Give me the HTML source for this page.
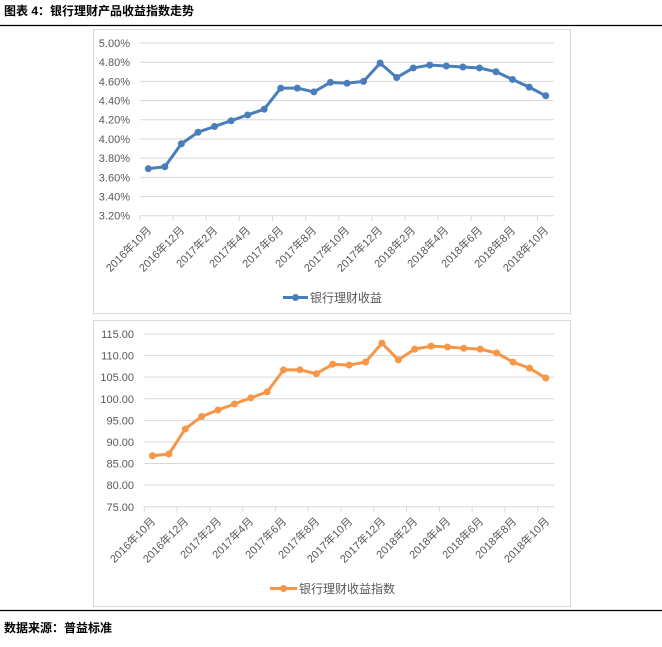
<!DOCTYPE html>
<html><head><meta charset="utf-8"><style>
body{margin:0;background:#fff;width:662px;height:642px;overflow:hidden;font-family:"Liberation Sans","Noto Sans CJK SC",sans-serif}
svg text{font-family:"Liberation Sans","Noto Sans CJK SC",sans-serif}
</style></head><body>
<svg width="662" height="642" xmlns="http://www.w3.org/2000/svg">
<text x="4" y="15" font-size="12" font-weight="bold" fill="#000">图表 4：银行理财产品收益指数走势</text>
<line x1="0" y1="25.5" x2="662" y2="25.5" stroke="#000" stroke-width="1.2"/>
<rect x="93.5" y="29.5" width="477" height="284" fill="none" stroke="#d9d9d9"/>
<rect x="93.5" y="320.5" width="477" height="286" fill="none" stroke="#d9d9d9"/>
<line x1="0" y1="610.5" x2="662" y2="610.5" stroke="#000" stroke-width="1.2"/>
<text x="4" y="632" font-size="12" font-weight="bold" fill="#000">数据来源：普益标准</text>
<g font-size="11" fill="#595959">
<text x="130" y="47" text-anchor="end">5.00%</text>
<text x="130" y="66.2" text-anchor="end">4.80%</text>
<text x="130" y="85.4" text-anchor="end">4.60%</text>
<text x="130" y="104.5" text-anchor="end">4.40%</text>
<text x="130" y="123.7" text-anchor="end">4.20%</text>
<text x="130" y="142.9" text-anchor="end">4.00%</text>
<text x="130" y="162.1" text-anchor="end">3.80%</text>
<text x="130" y="181.3" text-anchor="end">3.60%</text>
<text x="130" y="200.5" text-anchor="end">3.40%</text>
<text x="130" y="219.7" text-anchor="end">3.20%</text>
</g>
<g font-size="11" fill="#595959">
<text x="134" y="338" text-anchor="end">115.00</text>
<text x="134" y="359.6" text-anchor="end">110.00</text>
<text x="134" y="381.2" text-anchor="end">105.00</text>
<text x="134" y="402.8" text-anchor="end">100.00</text>
<text x="134" y="424.4" text-anchor="end">95.00</text>
<text x="134" y="446" text-anchor="end">90.00</text>
<text x="134" y="467.6" text-anchor="end">85.00</text>
<text x="134" y="489.2" text-anchor="end">80.00</text>
<text x="134" y="510.8" text-anchor="end">75.00</text>
</g>
<g font-size="11" fill="#595959">
<text transform="translate(152,231) rotate(-45)" text-anchor="end">2016年10月</text>
<text transform="translate(185,231) rotate(-45)" text-anchor="end">2016年12月</text>
<text transform="translate(218,231) rotate(-45)" text-anchor="end">2017年2月</text>
<text transform="translate(251,231) rotate(-45)" text-anchor="end">2017年4月</text>
<text transform="translate(284,231) rotate(-45)" text-anchor="end">2017年6月</text>
<text transform="translate(317,231) rotate(-45)" text-anchor="end">2017年8月</text>
<text transform="translate(350,231) rotate(-45)" text-anchor="end">2017年10月</text>
<text transform="translate(383,231) rotate(-45)" text-anchor="end">2017年12月</text>
<text transform="translate(416,231) rotate(-45)" text-anchor="end">2018年2月</text>
<text transform="translate(449,231) rotate(-45)" text-anchor="end">2018年4月</text>
<text transform="translate(483,231) rotate(-45)" text-anchor="end">2018年6月</text>
<text transform="translate(516,231) rotate(-45)" text-anchor="end">2018年8月</text>
<text transform="translate(549,231) rotate(-45)" text-anchor="end">2018年10月</text>
</g>
<g font-size="11" fill="#595959">
<text transform="translate(156,522) rotate(-45)" text-anchor="end">2016年10月</text>
<text transform="translate(189,522) rotate(-45)" text-anchor="end">2016年12月</text>
<text transform="translate(222,522) rotate(-45)" text-anchor="end">2017年2月</text>
<text transform="translate(254,522) rotate(-45)" text-anchor="end">2017年4月</text>
<text transform="translate(287,522) rotate(-45)" text-anchor="end">2017年6月</text>
<text transform="translate(320,522) rotate(-45)" text-anchor="end">2017年8月</text>
<text transform="translate(353,522) rotate(-45)" text-anchor="end">2017年10月</text>
<text transform="translate(386,522) rotate(-45)" text-anchor="end">2017年12月</text>
<text transform="translate(418,522) rotate(-45)" text-anchor="end">2018年2月</text>
<text transform="translate(451,522) rotate(-45)" text-anchor="end">2018年4月</text>
<text transform="translate(484,522) rotate(-45)" text-anchor="end">2018年6月</text>
<text transform="translate(517,522) rotate(-45)" text-anchor="end">2018年8月</text>
<text transform="translate(550,522) rotate(-45)" text-anchor="end">2018年10月</text>
</g>
<line x1="283" y1="297.5" x2="308" y2="297.5" stroke="#4a7ebb" stroke-width="3"/>
<circle cx="295.5" cy="297.5" r="3.5" fill="#4a7ebb"/>
<text x="310" y="302" font-size="12" fill="#595959">银行理财收益</text>
<line x1="270" y1="588.5" x2="297" y2="588.5" stroke="#f79646" stroke-width="3"/>
<circle cx="283.5" cy="588.5" r="3.5" fill="#f79646"/>
<text x="299" y="593" font-size="12" fill="#595959">银行理财收益指数</text>
<g id="c1"></g><g id="c2"></g>
</svg>
<script>
var NS="http://www.w3.org/2000/svg";
function el(p,t,a){var e=document.createElementNS(NS,t);for(var k in a)e.setAttribute(k,a[k]);p.appendChild(e);return e;}
function chart(id,x0,x1,yTop,yBot,vTop,vBot,step,data,col){
 var g=document.getElementById(id);var n=data.length,cw=(x1-x0)/n;
 for(var v=vTop;v>=vBot-1e-9;v-=step){var y=yTop+(vTop-v)/(vTop-vBot)*(yBot-yTop);
  el(g,"line",{x1:x0,x2:x1,y1:y,y2:y,stroke:"#d9d9d9","stroke-width":1});}
 for(var i=0;i<=n;i+=2){var x=x0+i*cw;el(g,"line",{x1:x,x2:x,y1:yBot,y2:yBot+5,stroke:"#d9d9d9"});}
 var pts=data.map(function(v,i){return [x0+cw*(i+0.5),yTop+(vTop-v)/(vTop-vBot)*(yBot-yTop)];});
 el(g,"polyline",{points:pts.map(function(p){return p.join(",")}).join(" "),fill:"none",stroke:col,"stroke-width":3,"stroke-linejoin":"round"});
 pts.forEach(function(p){el(g,"circle",{cx:p[0],cy:p[1],r:3.5,fill:col});});
}
chart("c1",140,554,43,215.7,5.0,3.2,0.2,[3.69,3.71,3.95,4.07,4.13,4.19,4.25,4.31,4.53,4.53,4.49,4.59,4.58,4.60,4.79,4.64,4.74,4.77,4.76,4.75,4.74,4.70,4.62,4.54,4.45],"#4a7ebb");
chart("c2",144.3,554,334,506.7,115,75,5,[86.8,87.2,93.0,95.9,97.4,98.8,100.2,101.6,106.7,106.7,105.8,108.0,107.8,108.5,112.9,109.0,111.5,112.2,112.0,111.7,111.5,110.6,108.5,107.1,104.8],"#f79646");
</script>
</body></html>
